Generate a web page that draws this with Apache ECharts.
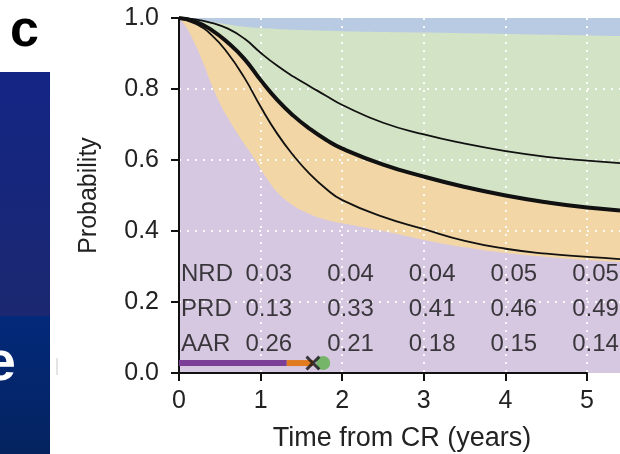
<!DOCTYPE html>
<html><head><meta charset="utf-8">
<script src="https://cdn.jsdelivr.net/npm/echarts@6/dist/echarts.min.js"></script>
<style>html,body{margin:0;padding:0;background:#fff}#c{width:620px;height:454px}</style>
</head><body><div id="c"></div>
<script>
// ---- data ----
const xTickValues = [0, 1, 2, 3, 4, 5];
const yTickValues = [0, 0.2, 0.4, 0.6, 0.8, 1.0];

// top of green region (blue band above)
const greenTopT = [0, 0.25, 0.5, 0.75, 1, 1.5, 2, 3, 4, 5, 5.4];
const greenTopV = [1.0, 0.995, 0.985, 0.977, 0.972, 0.966, 0.963, 0.959, 0.955, 0.951, 0.949];

// shared time grid for the curves
const curveT = [0, 0.2, 0.4, 0.6, 0.8, 1.0, 1.2, 1.4, 1.6, 1.8, 2.0, 2.5, 3, 3.5, 4, 4.5, 5, 5.4];
// upper thin curve
const upperV = [1.0, 0.996, 0.986, 0.97, 0.942, 0.902, 0.866, 0.835, 0.808, 0.781, 0.755, 0.705, 0.672, 0.646, 0.625, 0.609, 0.598, 0.591];
// thick curve (top of orange region)
const thickV = [1.0, 0.99, 0.966, 0.93, 0.885, 0.825, 0.77, 0.725, 0.688, 0.657, 0.632, 0.587, 0.553, 0.524, 0.5, 0.481, 0.466, 0.458];
// lower thin curve
const lowerV = [1.0, 0.984, 0.952, 0.9, 0.832, 0.75, 0.675, 0.613, 0.561, 0.519, 0.487, 0.44, 0.405, 0.372, 0.35, 0.336, 0.327, 0.321];

// top of purple region
const purpleT = [0, 0.1, 0.2, 0.3, 0.4, 0.5, 0.6, 0.7, 0.8, 0.9, 1.0, 1.1, 1.2, 1.4, 1.6, 1.8, 2.0, 2.5, 3, 3.5, 4, 4.5, 5, 5.4];
const purpleV = [1.0, 0.97, 0.925, 0.872, 0.812, 0.76, 0.718, 0.68, 0.645, 0.612, 0.575, 0.54, 0.51, 0.472, 0.448, 0.432, 0.422, 0.4, 0.375, 0.354, 0.338, 0.327, 0.318, 0.312];

// table
const tableYears = [1, 2, 3, 4, 5];
const rowNames = ['NRD', 'PRD', 'AAR'];
const nrdValues = [0.03, 0.04, 0.04, 0.05, 0.05];
const prdValues = [0.13, 0.33, 0.41, 0.46, 0.49];
const aarValues = [0.26, 0.21, 0.18, 0.15, 0.14];

// timeline bar
const barLevel = 0.028;
const purpleBarEnd = 1.32;
const orangeBarEnd = 1.64;
const crossT = 1.64;
const circleT = 1.766;

// ---- chart ----
const FONT = '"Liberation Sans", Arial, Helvetica, sans-serif';
const zip = (t, v) => t.map((x, i) => [x, v[i]]);
const dotted = { color: 'rgba(255,255,255,0.9)', width: 2, type: [2, 6] };
const onData = { xAxisIndex: 1, yAxisIndex: 1 };

function areaSeries(data, color) {
  return Object.assign({
    type: 'line', data, symbol: 'none', smooth: 0.5, z: 1,
    lineStyle: { width: 0, color: 'rgba(0,0,0,0)' }, areaStyle: { color, opacity: 1 }, silent: true
  }, onData);
}
function curveSeries(data, width) {
  return Object.assign({
    type: 'line', data, symbol: 'none', smooth: 0.5, z: 4,
    lineStyle: { color: '#111', width }, silent: true
  }, onData);
}
function tableRow(name, values, v) {
  const data = [{ value: [0.025, v, name], label: { align: 'left' } }]
    .concat(values.map((x, i) => ({ value: [tableYears[i] + 0.1, v, x.toFixed(2)] })));
  return Object.assign({
    type: 'scatter', data, symbolSize: 0, z: 6, silent: true,
    label: {
      show: true, position: 'inside', fontSize: 24, fontFamily: FONT, color: '#111',
      formatter: p => p.value[2], align: 'center'
    }
  }, onData);
}

const chart = echarts.init(document.getElementById('c'), null, { renderer: 'canvas' });
chart.setOption({
  animation: false,
  backgroundColor: '#fff',
  textStyle: { fontFamily: FONT },
  grid: [
    { left: 179, top: 18, width: 408, height: 355, containLabel: false, outerBoundsMode: 'none' },
    { left: 179, top: 18, width: 441, height: 355, containLabel: false, outerBoundsMode: 'none' }
  ],
  xAxis: [
    {
      gridIndex: 0, type: 'value', min: 0, max: 5, interval: 1, z: 3,
      axisLine: { show: true, onZero: false, lineStyle: { color: '#111', width: 2 } },
      axisTick: { show: true, length: 8, lineStyle: { color: '#111', width: 2 } },
      axisLabel: { fontSize: 25, color: '#222', margin: 16, fontFamily: FONT },
      splitLine: { show: true, lineStyle: dotted, showMinLine: false, showMaxLine: true },
      name: 'Time from CR (years)', nameLocation: 'middle', nameGap: 52,
      nameTextStyle: { fontSize: 27, color: '#222', fontFamily: FONT, padding: [0, 0, 0, 38] }
    },
    {
      gridIndex: 1, type: 'value', min: 0, max: 5.4, show: false
    }
  ],
  yAxis: [
    {
      gridIndex: 0, type: 'value', min: 0, max: 1, interval: 0.2, z: 3,
      axisLine: { show: true, onZero: false, lineStyle: { color: '#111', width: 2 } },
      axisTick: { show: true, length: 8, lineStyle: { color: '#111', width: 2 } },
      axisLabel: { fontSize: 25, color: '#222', margin: 20, fontFamily: FONT, formatter: v => v.toFixed(1) },
      splitLine: { show: false },
      name: 'Probability', nameLocation: 'middle', nameGap: 77,
      nameTextStyle: { fontSize: 25, color: '#222', fontFamily: FONT }
    },
    {
      gridIndex: 1, type: 'value', min: 0, max: 1, interval: 0.2, z: 2,
      axisLine: { show: false }, axisTick: { show: false }, axisLabel: { show: false },
      splitLine: { show: true, lineStyle: dotted, showMinLine: false, showMaxLine: false }
    }
  ],
  series: [
    areaSeries([[0, 1], [5.4, 1]], '#b8cbe2'),
    areaSeries(zip(greenTopT, greenTopV), '#d3e4c6'),
    areaSeries(zip(curveT, thickV), '#f3d6a5'),
    areaSeries(zip(purpleT, purpleV), '#d7c8e2'),
    curveSeries(zip(curveT, upperV), 1.8),
    curveSeries(zip(curveT, thickV), 4),
    curveSeries(zip(curveT, lowerV), 1.8),
    Object.assign({ type: 'line', data: [[0, barLevel], [purpleBarEnd, barLevel]], symbol: 'none', z: 5,
      lineStyle: { color: '#7b3f98', width: 6 }, silent: true }, onData),
    Object.assign({ type: 'line', data: [[purpleBarEnd, barLevel], [orangeBarEnd, barLevel]], symbol: 'none', z: 5,
      lineStyle: { color: '#e07b20', width: 6 }, silent: true }, onData),
    Object.assign({ type: 'scatter', data: [[circleT, barLevel]], symbol: 'circle', symbolSize: 14, z: 6,
      itemStyle: { color: '#5cb04b' }, silent: true }, onData),
    Object.assign({ type: 'scatter', data: [[crossT, barLevel]], z: 7,
      symbol: 'path://M0,1.4L1.4,0L5,3.6L8.6,0L10,1.4L6.4,5L10,8.6L8.6,10L5,6.4L1.4,10L0,8.6L3.6,5Z', symbolSize: 15,
      itemStyle: { color: '#111' }, silent: true }, onData),
    tableRow(rowNames[0], nrdValues, 0.279),
    tableRow(rowNames[1], prdValues, 0.18),
    tableRow(rowNames[2], aarValues, 0.081)
  ],
  graphic: [
    { type: 'rect', left: 0, top: 72, shape: { width: 50, height: 244 }, silent: true,
      style: { fill: new echarts.graphic.LinearGradient(0, 0, 0, 1, [{ offset: 0, color: '#132585' }, { offset: 1, color: '#1b2870' }]) } },
    { type: 'rect', left: 0, top: 316, shape: { width: 50, height: 138 }, silent: true,
      style: { fill: new echarts.graphic.LinearGradient(0, 0, 0, 1, [{ offset: 0, color: '#03297a' }, { offset: 1, color: '#04235f' }]) } },
    { type: 'text', x: 16, y: 365, silent: true,
      style: { text: 'e', fill: '#fff', font: 'bold 56px ' + FONT, align: 'right', verticalAlign: 'middle' } },
    { type: 'rect', left: 56, top: 358, shape: { width: 2, height: 17 }, silent: true, style: { fill: '#e4e4e4' } },
    { type: 'text', x: 10, y: 32, silent: true,
      style: { text: 'c', fill: '#000', font: 'bold 52px ' + FONT, align: 'left', verticalAlign: 'middle' } }
  ]
});
</script>
</body></html>
